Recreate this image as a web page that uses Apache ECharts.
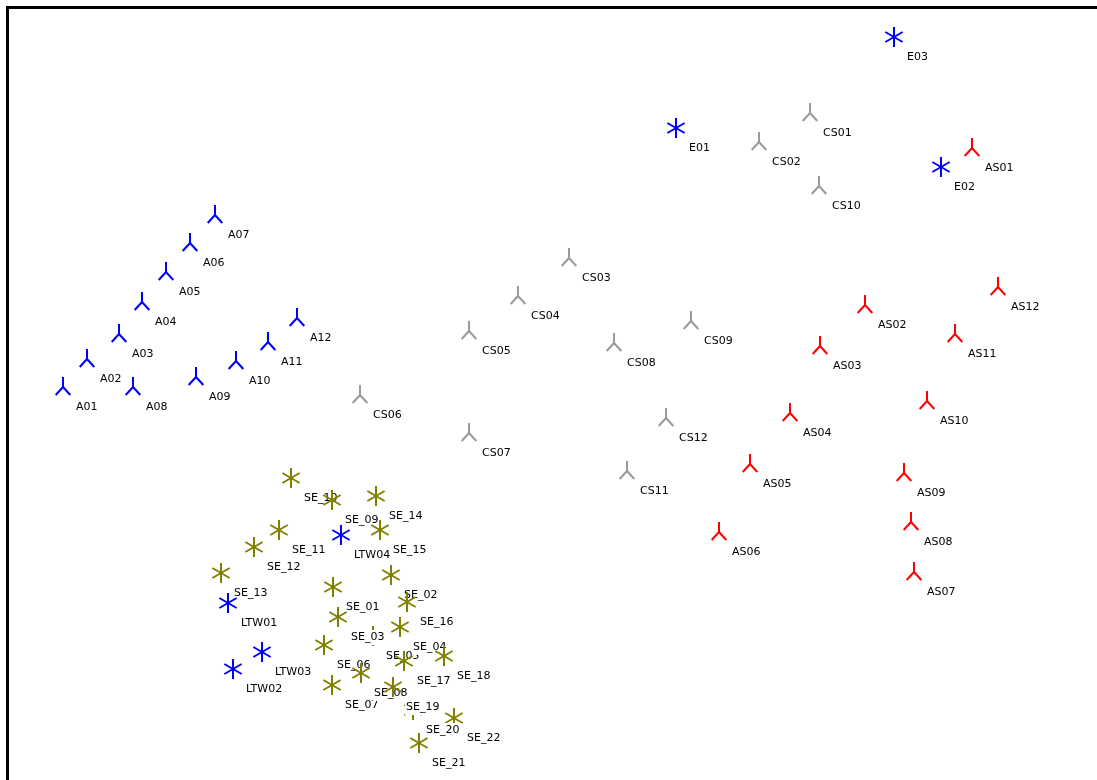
<!DOCTYPE html>
<html>
<head>
<meta charset="utf-8">
<script src="https://cdn.jsdelivr.net/npm/echarts@6.0.0/dist/echarts.min.js"></script>
<style>
  html, body { margin: 0; padding: 0; background: #ffffff; }
  #chart { width: 1097px; height: 780px; }
</style>
</head>
<body>
<div id="chart"></div>
<script>
// Configuration map: each point is [label, dimension 1, dimension 2].
const groupA = [
  ['A01', -4.87, 0.13], ['A02', -4.63, 0.41], ['A03', -4.31, 0.66],
  ['A04', -4.08, 0.98], ['A05', -3.84, 1.28], ['A06', -3.60, 1.57],
  ['A07', -3.35, 1.85], ['A08', -4.17, 0.13], ['A09', -3.54, 0.23],
  ['A10', -3.14, 0.39], ['A11', -2.82, 0.58], ['A12', -2.53, 0.82]
];
const groupCS = [
  ['CS01', 2.60, 2.87], ['CS02', 2.09, 2.58], ['CS03', 0.19, 1.42],
  ['CS04', -0.32, 1.04], ['CS05', -0.81, 0.69], ['CS06', -1.90, 0.05],
  ['CS07', -0.81, -0.33], ['CS08', 0.64, 0.57], ['CS09', 1.41, 0.79],
  ['CS10', 2.69, 2.14], ['CS11', 0.77, -0.71], ['CS12', 1.16, -0.18]
];
const groupAS = [
  ['AS01', 4.22, 2.52], ['AS02', 3.15, 0.95], ['AS03', 2.70, 0.54],
  ['AS04', 2.40, -0.13], ['AS05', 2.00, -0.64], ['AS06', 1.69, -1.32],
  ['AS07', 3.64, -1.72], ['AS08', 3.61, -1.22], ['AS09', 3.54, -0.73],
  ['AS10', 3.77, -0.01], ['AS11', 4.05, 0.66], ['AS12', 4.48, 1.13]
];
const groupE = [
  ['E01', 1.26, 2.72], ['E02', 3.91, 2.33], ['E03', 3.44, 3.63]
];
// Listed in drawing order (later points sit on top of earlier labels).
const groupSE = [
  ['SE_10', -2.59, -0.78], ['SE_13', -3.29, -1.73], ['SE_12', -2.96, -1.47],
  ['SE_11', -2.71, -1.30], ['SE_14', -1.74, -0.96], ['SE_09', -2.18, -1.00],
  ['SE_15', -1.70, -1.30], ['SE_01', -2.17, -1.87], ['SE_02', -1.59, -1.75],
  ['SE_16', -1.43, -2.02], ['SE_05', -1.77, -2.36], ['SE_03', -2.12, -2.17],
  ['SE_04', -1.50, -2.27], ['SE_18', -1.06, -2.56], ['SE_17', -1.46, -2.61],
  ['SE_06', -2.26, -2.45], ['SE_07', -2.18, -2.85], ['SE_22', -0.96, -3.18],
  ['SE_20', -1.37, -3.10], ['SE_21', -1.31, -3.43], ['SE_08', -1.89, -2.73],
  ['SE_19', -1.57, -2.87]
];
const groupLTW = [
  ['LTW01', -3.22, -2.03], ['LTW02', -3.17, -2.69],
  ['LTW03', -2.88, -2.52], ['LTW04', -2.09, -1.35]
];

// Visible window of the plot (axis bounds).
const X_MIN = -5.43, X_MAX = 5.47;
const Y_MIN = -3.80, Y_MAX = 3.93;

const LABEL_FONT = '11px "DejaVu Sans", sans-serif';

// Marker strokes, relative to the point.
const SHAPES = {
  tripod: [[0, 0, 0, -10], [0, 0, -7.3, 8], [0, 0, 7.3, 8]],
  asterisk: [[0, -10, 0, 10], [-8.66, -5, 8.66, 5], [-8.66, 5, 8.66, -5]]
};

function pointSeries(name, points, shape, color) {
  return {
    type: 'custom',
    name: name,
    coordinateSystem: 'cartesian2d',
    data: points.map(p => [p[1], p[2]]),
    encode: { x: 0, y: 1 },
    silent: true,
    clip: false,
    renderItem: function (params, api) {
      const c = api.coord([api.value(0), api.value(1)]);
      // snap to whole pixels so 2px strokes stay crisp
      const cx = Math.round(c[0]), cy = Math.round(c[1]);
      const children = SHAPES[shape].map(s => ({
        type: 'line',
        shape: { x1: cx + s[0], y1: cy + s[1], x2: cx + s[2], y2: cy + s[3] },
        style: { stroke: color, lineWidth: 2, lineCap: 'butt' }
      }));
      children.push({
        type: 'text',
        x: cx + 12,
        y: cy + 20.5,
        style: {
          text: points[params.dataIndex][0],
          fill: '#000000',
          font: LABEL_FONT,
          align: 'left',
          verticalAlign: 'middle',
          backgroundColor: '#ffffff',
          padding: [2, 1]
        }
      });
      return { type: 'group', children: children };
    }
  };
}

const chart = echarts.init(document.getElementById('chart'), null, { renderer: 'canvas' });
chart.setOption({
  animation: false,
  backgroundColor: '#ffffff',
  grid: { show: false, left: 7, top: 7, right: 0, bottom: 0 },
  xAxis: { type: 'value', min: X_MIN, max: X_MAX, show: false, splitLine: { show: false } },
  yAxis: { type: 'value', min: Y_MIN, max: Y_MAX, show: false, splitLine: { show: false } },
  // Plot frame: open towards the right and bottom edges of the view.
  graphic: [{
    type: 'rect',
    silent: true,
    shape: { x: 7.5, y: 7.5, width: 1200, height: 900 },
    style: { fill: 'none', stroke: '#000000', lineWidth: 3 }
  }],
  series: [
    pointSeries('A', groupA, 'tripod', '#0000ff'),
    pointSeries('CS', groupCS, 'tripod', '#9a9a9a'),
    pointSeries('AS', groupAS, 'tripod', '#ff0000'),
    pointSeries('E', groupE, 'asterisk', '#0000ff'),
    pointSeries('SE', groupSE, 'asterisk', '#808000'),
    pointSeries('LTW', groupLTW, 'asterisk', '#0000ff')
  ]
});
</script>
</body>
</html>
